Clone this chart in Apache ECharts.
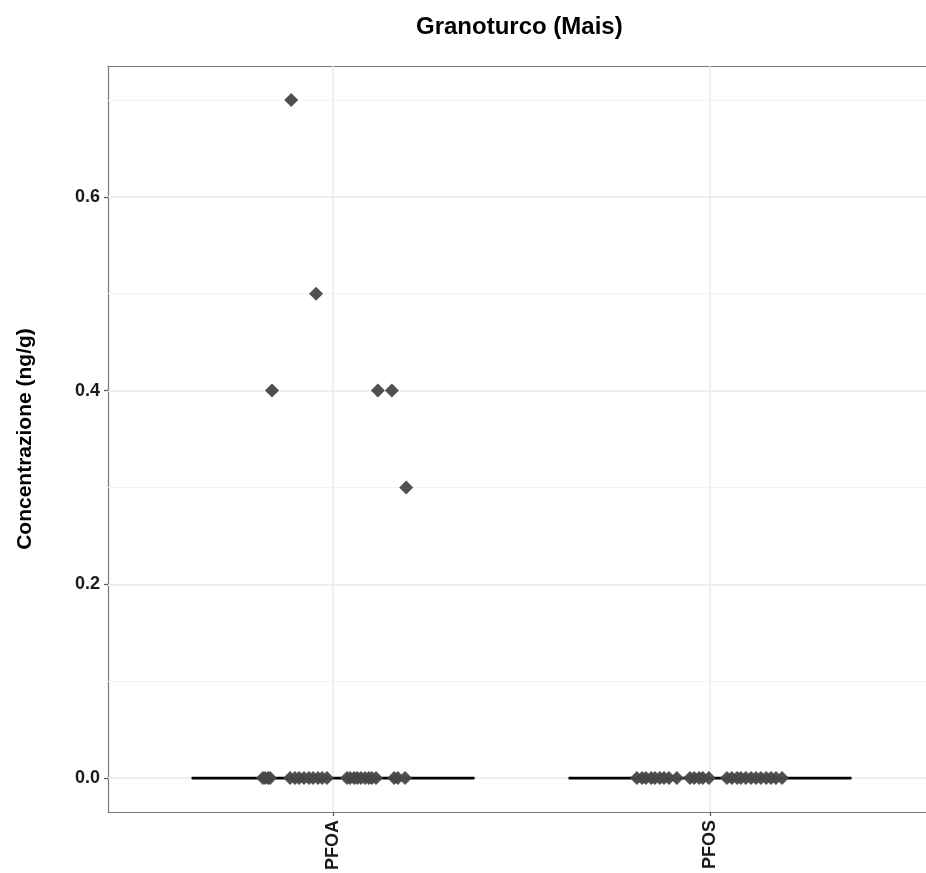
<!DOCTYPE html>
<html>
<head>
<meta charset="utf-8">
<script src="https://cdn.jsdelivr.net/npm/echarts@6/dist/echarts.min.js"></script>
<style>html,body{margin:0;padding:0;background:#fff;}#chart{width:926px;height:873px;}</style>
</head>
<body>
<div id="chart"></div>
<script>
const categories = ['PFOA', 'PFOS'];
const chartTitle = 'Granoturco (Mais)';
const yAxisTitle = 'Concentrazione (ng/g)';

// PFOA measurements and horizontal jitter (in category units)
const pfoaValues = [0.7, 0.5, 0.4, 0.4, 0.4, 0.3,
  0, 0, 0, 0, 0, 0, 0, 0, 0, 0, 0, 0, 0, 0, 0, 0, 0, 0, 0, 0, 0, 0, 0, 0, 0];
const pfoaJitter = [-0.111, -0.045, -0.162, 0.119, 0.156, 0.194,
  -0.186, -0.180, -0.172, -0.167, -0.114, -0.101, -0.090, -0.077, -0.064, -0.053, -0.040, -0.029, -0.016,
  0.037, 0.045, 0.056, 0.064, 0.074, 0.085, 0.095, 0.103, 0.114, 0.162, 0.172, 0.191];

// PFOS measurements and horizontal jitter
const pfosValues = [0, 0, 0, 0, 0, 0, 0, 0, 0, 0, 0, 0, 0, 0, 0, 0, 0, 0, 0, 0, 0, 0, 0, 0, 0, 0];
const pfosJitter = [-0.194, -0.180, -0.170, -0.156, -0.146, -0.133, -0.122, -0.109, -0.088,
  -0.053, -0.042, -0.029, -0.019, -0.003,
  0.045, 0.058, 0.072, 0.082, 0.095, 0.109, 0.122, 0.135, 0.149, 0.162, 0.175, 0.191];

const yTickValues = [0, 0.2, 0.4, 0.6];
const yMinorGrid = [0.1, 0.3, 0.5, 0.7];

function quantile(sorted, p) {
  const h = (sorted.length - 1) * p;
  const lo = Math.floor(h), hi = Math.ceil(h);
  return sorted[lo] + (sorted[hi] - sorted[lo]) * (h - lo);
}
function boxStats(vals) {
  const s = vals.slice().sort((a, b) => a - b);
  const q1 = quantile(s, 0.25), med = quantile(s, 0.5), q3 = quantile(s, 0.75);
  const iqr = q3 - q1;
  const inside = s.filter(v => v >= q1 - 1.5 * iqr && v <= q3 + 1.5 * iqr);
  return [inside[0], q1, med, q3, inside[inside.length - 1]];
}

const groups = [pfoaValues, pfosValues];
const jitters = [pfoaJitter, pfosJitter];
const boxData = groups.map((g, i) => [i].concat(boxStats(g)));
const pointData = [];
groups.forEach((g, i) => g.forEach((v, k) => pointData.push([i + jitters[i][k], v])));

const boxHalf = 0.375;
const font = 'Liberation Sans, Arial, sans-serif';
const xMin = -0.597, xMax = 1.573;
const borderCol = '#7a7a7a';

const chart = echarts.init(document.getElementById('chart'), null, {renderer: 'canvas'});
chart.setOption({
  animation: false,
  backgroundColor: '#ffffff',
  title: {
    text: chartTitle,
    left: 411,
    top: 10,
    textStyle: {fontFamily: font, fontWeight: 'bold', fontSize: 24, color: '#000'}
  },
  grid: {left: 108, right: 0, top: 66, bottom: 61, show: false},
  xAxis: [{
    type: 'value', min: xMin, max: xMax, position: 'bottom',
    axisLine: {show: true, onZero: false, lineStyle: {color: borderCol, width: 1.2}},
    splitLine: {show: false},
    axisTick: {show: true, length: 4, customValues: [0, 1], lineStyle: {color: '#555', width: 1.2}},
    axisLabel: {
      customValues: [0, 1], rotate: 90, margin: 8,
      formatter: v => categories[Math.round(v)] || '',
      fontFamily: font, fontWeight: 'bold', fontSize: 18, color: '#1a1a1a'
    }
  }, {
    type: 'value', min: xMin, max: xMax, position: 'top',
    axisLine: {show: true, onZero: false, lineStyle: {color: borderCol, width: 1.2}},
    splitLine: {show: false}, axisTick: {show: false}, axisLabel: {show: false}
  }],
  yAxis: {
    type: 'value', min: -0.035, max: 0.735,
    name: yAxisTitle, nameLocation: 'middle', nameGap: 72,
    nameTextStyle: {fontFamily: font, fontWeight: 'bold', fontSize: 21, color: '#000'},
    axisLine: {show: true, onZero: false, lineStyle: {color: borderCol, width: 1.2}},
    splitLine: {show: false},
    axisTick: {show: true, length: 4, customValues: yTickValues, lineStyle: {color: '#555', width: 1.2}},
    axisLabel: {
      customValues: yTickValues, margin: 8,
      formatter: v => v.toFixed(1),
      fontFamily: font, fontWeight: 'bold', fontSize: 18, color: '#1a1a1a'
    }
  },
  series: [
    {
      type: 'line', data: [], z: 1, silent: true,
      markLine: {
        silent: true, symbol: 'none', label: {show: false}, z: 1, animation: false,
        data: yMinorGrid.map(v => ({yAxis: v, lineStyle: {color: '#f3f3f3', width: 1, type: 'solid'}}))
          .concat(yTickValues.map(v => ({yAxis: v, lineStyle: {color: '#e9e9e9', width: 1.5, type: 'solid'}})))
          .concat(categories.map((c, i) => ({xAxis: i, lineStyle: {color: '#e9e9e9', width: 1.5, type: 'solid'}})))
      }
    },
    {
      type: 'custom', z: 2, silent: true,
      data: boxData,
      renderItem: function (params, api) {
        const x = api.value(0);
        const lo = api.value(1), q1 = api.value(2), med = api.value(3), q3 = api.value(4), hi = api.value(5);
        const tl = api.coord([x - boxHalf, q3]);
        const br = api.coord([x + boxHalf, q1]);
        const mL = api.coord([x - boxHalf, med]);
        const mR = api.coord([x + boxHalf, med]);
        const wTop = api.coord([x, hi]);
        const wQ3 = api.coord([x, q3]);
        const wBot = api.coord([x, lo]);
        const wQ1 = api.coord([x, q1]);
        const st = {stroke: '#000', lineWidth: 1.2, fill: 'none'};
        return {
          type: 'group',
          children: [
            {type: 'rect', shape: {x: tl[0], y: tl[1], width: br[0] - tl[0], height: br[1] - tl[1]}, style: {stroke: '#000', lineWidth: 1.2, fill: '#fff'}},
            {type: 'line', shape: {x1: wQ3[0], y1: wQ3[1], x2: wTop[0], y2: wTop[1]}, style: st},
            {type: 'line', shape: {x1: wQ1[0], y1: wQ1[1], x2: wBot[0], y2: wBot[1]}, style: st},
            {type: 'line', shape: {x1: mL[0], y1: mL[1], x2: mR[0], y2: mR[1]}, style: {stroke: '#000', lineWidth: 2.8}}
          ]
        };
      }
    },
    {
      type: 'scatter', z: 3, silent: true,
      symbol: 'diamond', symbolSize: 14,
      itemStyle: {color: '#474747', opacity: 0.95},
      data: pointData
    }
  ]
});
</script>
</body>
</html>
